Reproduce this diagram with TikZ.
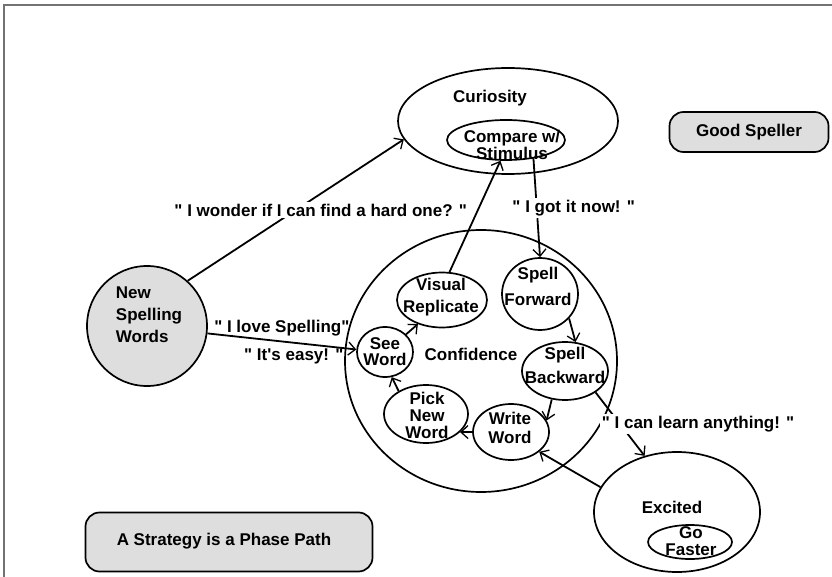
\documentclass[tikz,border=0pt]{standalone}
\usepackage{fontspec}
\setmainfont{Liberation Sans}[Ligatures=TeXOff]
\usetikzlibrary{arrows.meta,shapes.geometric}
\definecolor{phase_gray}{RGB}{222,222,222}
\definecolor{frame_gray}{RGB}{115,115,115}

\begin{document}
\begin{tikzpicture}[x=1pt, y=-1pt,
    txt/.style={font=\fontsize{17}{20}\selectfont\bfseries, align=center, inner sep=0pt},
    phase/.style={draw, ellipse, line width=1.7pt, inner sep=0pt},
    banner/.style={draw, line width=1.7pt, fill=phase_gray, rounded corners=14pt},
    flow/.style={line width=1.8pt, -{Straight Barb[length=7pt,width=13pt,line width=1.3pt]}},
    quote/.style={txt, fill=white, inner sep=2pt}]
    \useasboundingbox (0,0) rectangle (832,577);

    % Frame
    \draw[frame_gray, line width=2pt] (4,577) -- (4,5) -- (832,5);

    % Banners
    \node[banner, minimum width=159pt, minimum height=40pt] (speller) at (749,132) {};
    \node[txt] (spellertxt) at (749,132) {Good Speller};
    \node[banner, minimum width=287pt, minimum height=59pt] (strategy) at (229,542) {};
    \node[txt] (strategytxt) at (224,541) {A Strategy is a Phase Path};

    % Start
    \node[draw, circle, line width=1.7pt, fill=phase_gray, minimum size=120pt] (new) at (147,326) {};
    \node[txt, align=left] (newtxt) at (149,315) {New\\[2pt]Spelling\\[2pt]Words};

    % Curiosity
    \node[phase, minimum width=220pt, minimum height=106pt] (curiosity) at (508,121) {};
    \node[txt] (curiositytxt) at (490,98) {Curiosity};
    \node[phase, minimum width=118pt, minimum height=40pt] (compare) at (506,140) {};
    \node[txt] (comparetxt) at (512,145) {Compare w/\\[-3pt]Stimulus};

    % Confidence
    \node[phase, minimum width=272pt, minimum height=262pt] (confidence) at (481,361) {};
    \node[txt] (confidencetxt) at (471,354) {Confidence};
    \node[phase, minimum width=90pt, minimum height=55pt] (visual) at (442,300) {};
    \node[txt] (visualtxt) at (441,297) {Visual\\[2pt]Replicate};
    \node[phase, minimum width=76pt, minimum height=72pt] (forward) at (540,294) {};
    \node[txt] (forwardtxt) at (538,286) {Spell\\[6pt]Forward};
    \node[phase, minimum width=56pt, minimum height=50pt] (see) at (385,352) {};
    \node[txt] (seetxt) at (385,352) {See\\[-4pt]Word};
    \node[phase, minimum width=86pt, minimum height=58pt] (backward) at (565,371) {};
    \node[txt] (backwardtxt) at (565,365) {Spell\\[4pt]Backward};
    \node[phase, minimum width=84pt, minimum height=58pt] (pick) at (426,414) {};
    \node[txt] (picktxt) at (427,415) {Pick\\[-3pt]New\\[-3pt]Word};
    \node[phase, minimum width=76pt, minimum height=56pt] (write) at (511,432) {};
    \node[txt] (writetxt) at (510,428) {Write\\[-1pt]Word};

    % Excited
    \node[phase, minimum width=166pt, minimum height=120pt] (excited) at (677,512) {};
    \node[txt] (excitedtxt) at (672,507) {Excited};
    \node[phase, minimum width=84pt, minimum height=34pt] (faster) at (690,542) {};
    \node[txt] (fastertxt) at (691,541) {Go\\[-3pt]Faster};

    % Phase path
    \draw[flow] (new.48) -- node[quote, xshift=25pt] {" I wonder if I can find a hard one? "} (curiosity.190);
    \draw[flow] (new.-7) -- node[txt, above=4pt] {" I love Spelling"} node[txt, below=6pt, xshift=12pt] {" It's easy! "} (see.175);
    \draw[flow] (see.40) -- (visual.225);
    \draw[flow] (visual.75) -- (compare.255);
    \draw[flow] (compare.-34) -- node[quote, xshift=37pt] {" I got it now! "} (forward.north);
    \draw[flow] (forward.-40) -- (backward.70);
    \draw[flow] (backward.245) -- (write.18);
    \draw[flow] (write.180) -- (pick.-28);
    \draw[flow] (pick.140) -- (see.-75);
    \draw[flow] (backward.-35) -- node[quote, xshift=78pt] {" I can learn anything! "} (excited.120);
    \draw[flow] (excited.162) -- (write.-35);
\end{tikzpicture}
\end{document}
